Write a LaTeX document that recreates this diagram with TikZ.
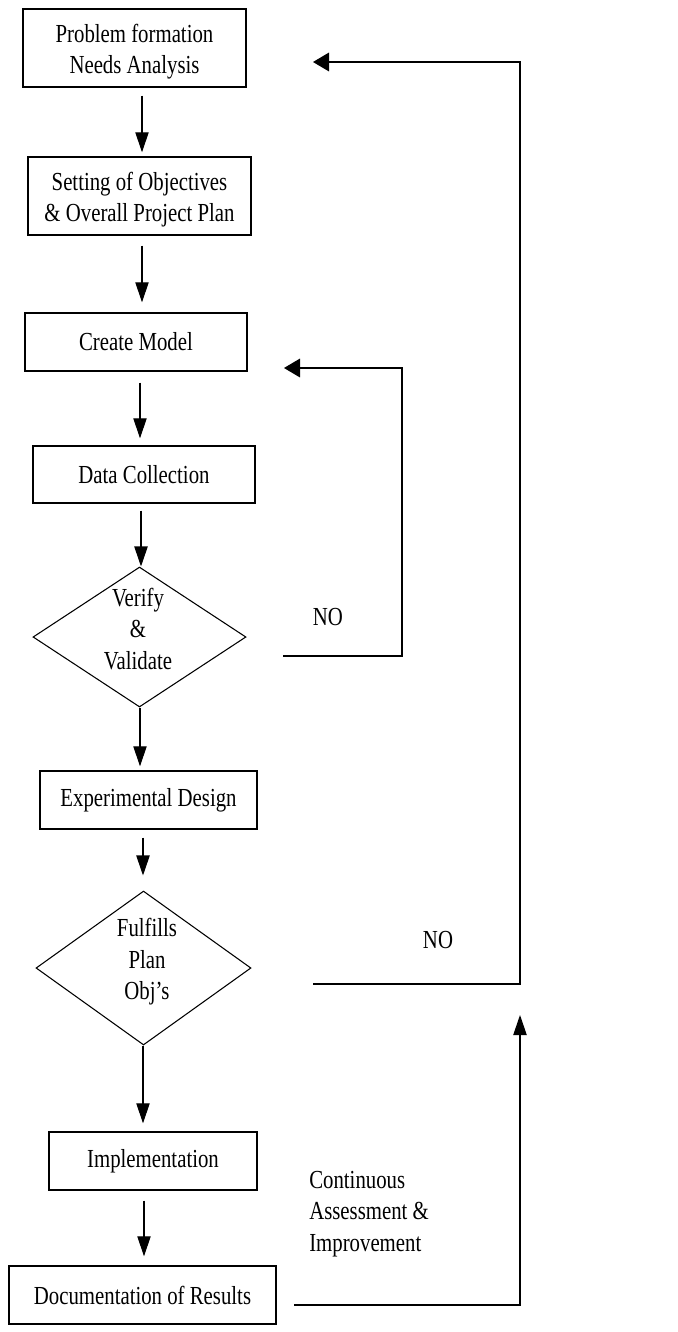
\documentclass[tikz,border=0pt]{standalone}
\usepackage{fontspec}
\setmainfont{Liberation Serif}[FakeStretch=0.8]
\usetikzlibrary{arrows.meta,shapes.geometric,calc}
\begin{document}
\begin{tikzpicture}[x=0.75pt,y=-0.75pt,
  font=\fontsize{19.5pt}{23.6pt}\selectfont,
  box/.style={draw, line width=1.1pt, inner sep=0pt, align=center},
  dia/.style={draw, diamond, line width=0.8pt, inner sep=0pt},
  lbl/.style={inner sep=0pt, align=center},
  varr/.style={line width=0.8pt, -{Triangle[length=15pt,width=10pt]}},
  harr/.style={line width=0.9pt, -{Triangle[length=12pt,width=14pt]}},
  fbline/.style={line width=0.9pt},
]
\useasboundingbox (0,0) rectangle (678,1332);

% boxes
\node[box, minimum width=167.25pt, minimum height=58.5pt] (b1) at (134.5,48) {\rule{0pt}{19.5pt}Problem formation\\Needs Analysis};
\node[box, minimum width=167.25pt, minimum height=58.5pt] (b2) at (139.5,196) {\rule{0pt}{19.5pt}Setting of Objectives\\\& Overall Project Plan};
\node[box, minimum width=166.5pt, minimum height=43.5pt] (b3) at (136,342) {Create Model};
\node[box, minimum width=166.5pt, minimum height=42.75pt] (b4) at (144,474.5) {Data Collection};
\node[dia, minimum width=159.75pt, minimum height=105pt] (d1) at (139.5,637) {};
\node[lbl] (t1) at (138,629) {Verify\\\&\\Validate};
\node[box, minimum width=162.75pt, minimum height=43.5pt] (b5) at (148.5,800) {Experimental Design};
\node[dia, minimum width=161.25pt, minimum height=115.5pt] (d2) at (143.5,968) {};
\node[lbl] (t2) at (147,962) {Fulfills\\Plan\\Obj’s};
\node[box, minimum width=156pt, minimum height=43.5pt] (b6) at (153,1161) {Implementation};
\node[box, minimum width=200.25pt, minimum height=43.5pt] (b7) at (142.5,1295) {Documentation of Results};

% labels
\node[lbl] (no1) at (328,617) {NO};
\node[lbl] (no2) at (438,940) {NO};
\node[lbl, anchor=west, align=left] (cai) at (309,1214) {Continuous\\Assessment \&\\Improvement};

% vertical arrows
\draw[varr] ($(b1.south)+(7.5,8)$) -- ($(b2.north)+(2.5,-4)$);
\draw[varr] ($(b2.south)+(2.5,10)$) -- ($(b3.north)+(6,-10)$);
\draw[varr] ($(b3.south)+(4,11)$) -- ($(b4.north)+(-4,-7)$);
\draw[varr] ($(b4.south)+(-3,7)$) -- ($(d1.north)+(1.5,0)$);
\draw[varr] ($(d1.south)+(0.5,0)$) -- ($(b5.north)+(-8.5,-4)$);
\draw[varr] ($(b5.south)+(-5.5,8)$) -- ($(d2.north)+(-0.5,-15)$);
\draw[varr] ($(d2.south)+(-0.5,0)$) -- ($(b6.north)+(-10,-8)$);
\draw[varr] ($(b6.south)+(-9,10)$) -- ($(b7.north)+(1.5,-9)$);

% feedback loops
\coordinate (n1s) at (283,656);
\coordinate (n1t) at (402,368);
\coordinate (n1e) at (284,368);
\draw[harr] (n1s) -| (n1t) -- (n1e);

\coordinate (n2s) at (313,984);
\coordinate (n2t) at (520,62);
\coordinate (n2e) at (313,62);
\draw[harr] (n2s) -| (n2t) -- (n2e);

\coordinate (n3s) at (294,1305);
\coordinate (n3e) at (520,1015);
\draw[fbline, -{Triangle[length=15pt,width=10pt]}] (n3s) -| (n3e);
\end{tikzpicture}
\end{document}
